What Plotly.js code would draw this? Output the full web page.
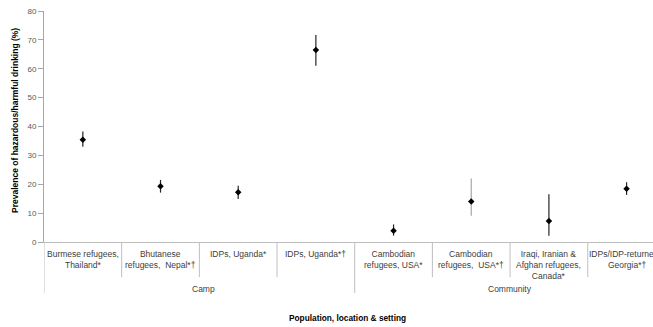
<!DOCTYPE html>
<html>
<head>
<meta charset="utf-8">
<script src="https://cdn.plot.ly/plotly-3.0.1.min.js"></script>
<style>html,body{margin:0;padding:0;background:#fff;}#chart{width:653px;height:327px;}</style>
</head>
<body>
<div id="chart"></div>
<script>
var categories = ["Burmese refugees,<br>Thailand*", "Bhutanese<br>refugees,  Nepal*†", "IDPs, Uganda*", "IDPs, Uganda*†", "Cambodian<br>refugees, USA*", "Cambodian<br>refugees,  USA*†", "Iraqi, Iranian &<br>Afghan refugees,<br>Canada*", "IDPs/IDP-returnees,<br>Georgia*†"];
var prevalence = [35.4, 19.3, 17.2, 66.5, 3.9, 14.0, 7.3, 18.4];
var upperCI = [38.3, 21.5, 19.5, 71.7, 6.1, 22.0, 16.5, 20.7];
var lowerCI = [33.0, 17.1, 14.9, 61.0, 2.2, 9.1, 2.2, 16.3];
var errColors = ["#262626", "#262626", "#262626", "#262626", "#262626", "#a6a6a6", "#262626", "#262626"];
var groups = ["Camp", "Community"];
var groupPos = [1.55, 5.5];
var yTicks = [0, 10, 20, 30, 40, 50, 60, 70, 80];

var traces = [];
for (var i = 0; i < prevalence.length; i++) {
  traces.push({
    type: "scatter", mode: "markers",
    x: [i], y: [prevalence[i]],
    marker: {symbol: "diamond", size: 5, color: "#000"},
    error_y: {type: "data", symmetric: false, array: [upperCI[i] - prevalence[i]], arrayminus: [prevalence[i] - lowerCI[i]], color: errColors[i], thickness: 1.2, width: 0},
    showlegend: false, hoverinfo: "skip", cliponaxis: false
  });
}

var shapes = [];
var annotations = [];
var fnt = {family: "Liberation Sans, Arial, sans-serif", size: 8.5, color: "#404040"};
for (var k = 0; k < categories.length; k++) {
  annotations.push({xref: "x", yref: "paper", x: k, y: -0.02, yanchor: "top", xanchor: "center", text: categories[k], showarrow: false, font: fnt, align: "center"});
  if (k < categories.length - 1) {
    var isGroup = (k === 3);
    shapes.push({type: "line", xref: "x", yref: "paper", x0: k + 0.5, x1: k + 0.5, y0: 0, y1: isGroup ? -0.221 : -0.152, line: {color: "#bfbfbf", width: 1}});
  }
}
shapes.push({type: "line", xref: "x", yref: "paper", x0: -0.5, x1: -0.5, y0: 0, y1: -0.221, line: {color: "#bfbfbf", width: 1}});
for (var g = 0; g < groups.length; g++) {
  annotations.push({xref: "x", yref: "paper", x: groupPos[g], y: -0.175, yanchor: "top", xanchor: "center", text: groups[g], showarrow: false, font: fnt});
}
annotations.push({xref: "paper", yref: "paper", x: 0.499, y: -0.3, xanchor: "center", yanchor: "top", text: "<b>Population, location & setting</b>", showarrow: false, font: {family: "Liberation Sans, Arial, sans-serif", size: 8.3, color: "#000"}});
annotations.push({xref: "paper", yref: "paper", x: -0.0476, y: 0.524, xanchor: "center", yanchor: "middle", textangle: -90, text: "<b>Prevalence of hazardous/harmful drinking (%)</b>", showarrow: false, font: {family: "Liberation Sans, Arial, sans-serif", size: 8.5, color: "#000"}});

var layout = {
  width: 653, height: 327,
  margin: {l: 44, r: 0, t: 11, b: 85},
  paper_bgcolor: "#fff", plot_bgcolor: "#fff",
  xaxis: {range: [-0.5, 7.34], showticklabels: false, showgrid: false, zeroline: false, showline: true, linecolor: "#bfbfbf", linewidth: 1, ticks: "", fixedrange: true},
  yaxis: {range: [0, 80], tickvals: yTicks, showgrid: false, zeroline: false, showline: true, linecolor: "#a6a6a6", linewidth: 1, ticks: "outside", ticklen: 5, tickcolor: "#a6a6a6", tickfont: {family: "Liberation Sans, Arial, sans-serif", size: 8, color: "#595959"}, fixedrange: true},
  shapes: shapes,
  annotations: annotations
};
Plotly.newPlot("chart", traces, layout, {displayModeBar: false, staticPlot: true});
</script>
</body>
</html>
